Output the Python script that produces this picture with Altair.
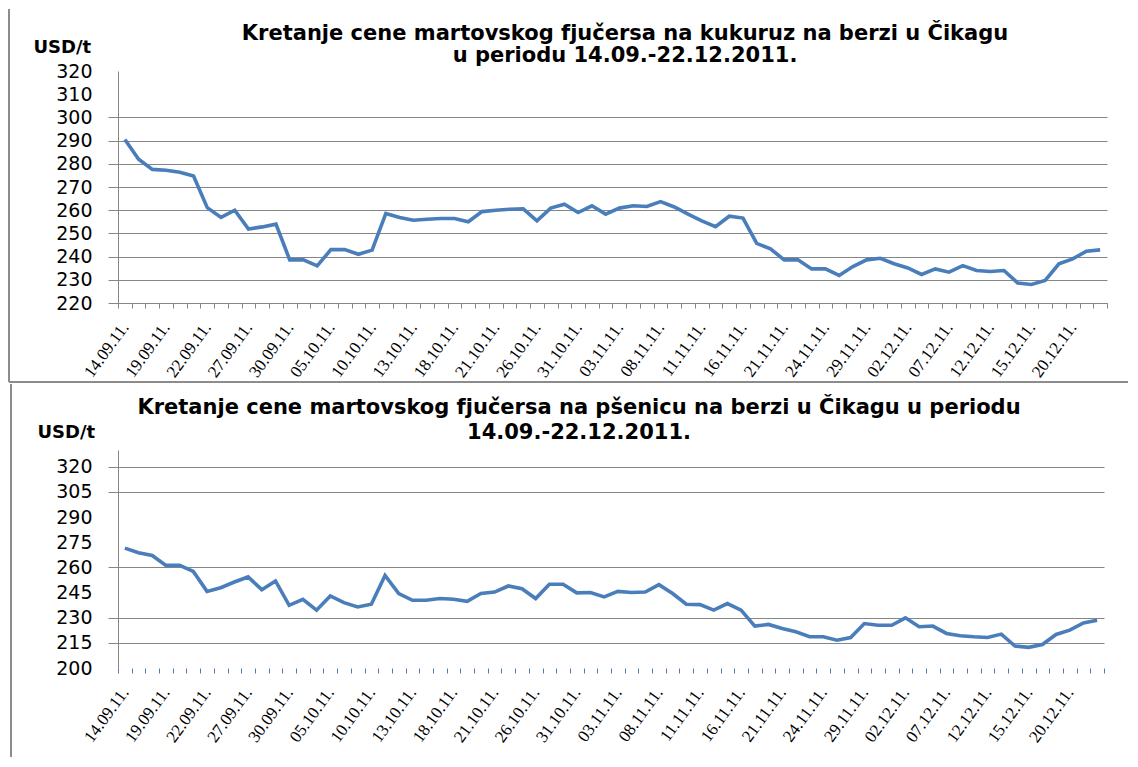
import altair as alt
import pandas as pd

# trading days (categories)
dates = [
    "14.09.11.", "15.09.11.", "16.09.11.", "19.09.11.", "20.09.11.", "21.09.11.", "22.09.11.",
    "23.09.11.", "26.09.11.", "27.09.11.", "28.09.11.", "29.09.11.", "30.09.11.",
    "03.10.11.", "04.10.11.", "05.10.11.", "06.10.11.", "07.10.11.", "10.10.11.", "11.10.11.",
    "12.10.11.", "13.10.11.", "14.10.11.", "17.10.11.", "18.10.11.", "19.10.11.", "20.10.11.",
    "21.10.11.", "24.10.11.", "25.10.11.", "26.10.11.", "27.10.11.", "28.10.11.", "31.10.11.",
    "01.11.11.", "02.11.11.", "03.11.11.", "04.11.11.", "07.11.11.", "08.11.11.", "09.11.11.",
    "10.11.11.", "11.11.11.", "14.11.11.", "15.11.11.", "16.11.11.", "17.11.11.", "18.11.11.",
    "21.11.11.", "22.11.11.", "23.11.11.", "24.11.11.", "25.11.11.", "28.11.11.", "29.11.11.",
    "30.11.11.", "01.12.11.", "02.12.11.", "05.12.11.", "06.12.11.", "07.12.11.", "08.12.11.",
    "09.12.11.", "12.12.11.", "13.12.11.", "14.12.11.", "15.12.11.", "16.12.11.", "19.12.11.",
    "20.12.11.", "21.12.11.", "22.12.11.",
]

# labelled categories on the x axis
label_dates = [
    "14.09.11.", "19.09.11.", "22.09.11.", "27.09.11.", "30.09.11.", "05.10.11.",
    "10.10.11.", "13.10.11.", "18.10.11.", "21.10.11.", "26.10.11.", "31.10.11.",
    "03.11.11.", "08.11.11.", "11.11.11.", "16.11.11.", "21.11.11.", "24.11.11.",
    "29.11.11.", "02.12.11.", "07.12.11.", "12.12.11.", "15.12.11.", "20.12.11.",
]

# corn (kukuruz) March futures, USD/t
corn = [
    290.5, 282.0, 277.6, 277.2, 276.4, 274.7, 261.1, 256.9, 260.0, 251.9,
    252.8, 254.0, 238.6, 238.6, 236.0, 243.0, 243.0, 241.0, 242.8, 258.6,
    256.9, 255.7, 256.1, 256.4, 256.4, 255.0, 259.4, 260.0, 260.4, 260.6,
    255.4, 260.9, 262.6, 259.0, 261.9, 258.3, 260.9, 261.9, 261.6, 263.7,
    261.4, 258.3, 255.4, 252.9, 257.4, 256.6, 245.7, 243.3, 238.6, 238.6,
    234.7, 234.7, 231.9, 235.7, 238.6, 239.3, 236.9, 235.1, 232.3, 234.7,
    233.3, 236.1, 234.0, 233.6, 234.0, 228.6, 228.0, 229.7, 236.9, 239.0,
    242.3, 242.9,
]

# wheat (pšenica) March futures, USD/t
wheat = [
    271.5, 268.7, 267.1, 261.2, 261.2, 257.6, 245.7, 247.9, 251.3, 254.3,
    246.7, 251.9, 237.4, 241.0, 234.5, 243.0, 239.0, 236.4, 238.0, 255.2,
    244.4, 240.4, 240.4, 241.4, 241.0, 239.8, 244.4, 245.3, 248.9, 247.3,
    241.4, 249.9, 249.9, 244.8, 245.0, 242.4, 245.7, 245.0, 245.3, 249.7,
    244.4, 238.0, 237.8, 234.5, 238.4, 234.5, 225.0, 226.0, 223.6, 221.6,
    218.6, 218.6, 216.6, 218.2, 226.5, 225.5, 225.5, 229.9, 224.6, 225.0,
    220.6, 219.2, 218.6, 218.2, 220.2, 213.1, 212.3, 214.0, 220.0, 222.6,
    226.9, 228.5,
]

corn_ticks = [320, 310, 300, 290, 280, 270, 260, 250, 240, 230, 220]
corn_grid = [300, 290, 280, 270, 260, 250, 240, 230, 220]
wheat_ticks = [320, 305, 290, 275, 260, 245, 230, 215, 200]
wheat_grid = [320, 305, 260, 230, 215]

title_corn = ["Kretanje cene martovskog fjučersa na kukuruz na berzi u Čikagu",
              "u periodu 14.09.-22.12.2011."]
title_wheat = ["Kretanje cene martovskog fjučersa na pšenicu na berzi u Čikagu u periodu",
               "14.09.-22.12.2011."]

BLUE = "#4A7EBB"
GRID = "#868686"
FRAME = "#8C8C8C"

df_c = pd.DataFrame({"datum": dates, "v": corn})
df_w = pd.DataFrame({"datum": dates, "v": wheat})
one = pd.DataFrame({"k": [0]})

lab_list = ",".join("'" + d + "'" for d in label_dates)
label_expr = f"indexof([{lab_list}], datum.value) >= 0 ? datum.value : ''"


def grid_cond(vals):
    lst = ",".join(str(v) for v in vals)
    return {"condition": {"test": f"indexof([{lst}], datum.value) < 0", "value": "transparent"},
            "value": GRID}


def x_enc(domain_on, tick_color):
    return alt.X(
        "datum:N", sort=dates,
        scale=alt.Scale(type="band", paddingInner=0, paddingOuter=0),
        bandPosition=0.5,
        axis=alt.Axis(
            title=None, tickBand="extent", labelExpr=label_expr, labelOverlap=False,
            labelAngle=306, labelAlign="right", labelBaseline="middle",
            labelFont="Liberation Serif", labelFontSize=17, labelColor="black",
            labelPadding=16, tickSize=5, tickColor=tick_color, tickWidth=1,
            domain=domain_on, domainColor=GRID, labelFlush=False, labelBound=False,
        ),
    )


def y_axis(vals, grid_vals, tx, ty):
    return alt.Axis(
        values=vals, title="USD/t", titleAngle=0, titleX=tx, titleY=ty,
        titleAlign="left", titleBaseline="middle", titleFont="DejaVu Sans",
        titleFontSize=18, titleFontWeight="bold", titleColor="black",
        labelFont="DejaVu Sans", labelFontSize=19, labelColor="black", labelPadding=16,
        tickSize=10, tickColor=grid_cond(grid_vals), gridColor=grid_cond(grid_vals),
        grid=True, domainColor=GRID, labelOverlap=False,
    )


def title_line(text, cx, cy):
    return alt.Chart(one).mark_text(
        text=text, font="DejaVu Sans", fontSize=21, fontWeight="bold", color="black",
        align="center", baseline="middle",
    ).encode(x=alt.value(cx), y=alt.value(cy))


top_line = alt.Chart(df_c).mark_line(color=BLUE, strokeWidth=3.6).encode(
    x=x_enc(True, GRID),
    y=alt.Y("v:Q", scale=alt.Scale(domain=[220, 320], nice=False, zero=False),
            axis=y_axis(corn_ticks, corn_grid, -85, -24)),
)
# frame of the upper chart: left border and bottom separator
top_border = alt.Chart(one).mark_rule(color=FRAME, strokeWidth=2).encode(
    x=alt.value(-109), y=alt.value(-62), y2=alt.value(311))
top_sep = alt.Chart(one).mark_rule(color=FRAME, strokeWidth=2).encode(
    x=alt.value(-109), x2=alt.value(1010), y=alt.value(311))

top = alt.layer(
    top_line, top_border, top_sep,
    title_line(title_corn[0], 507, -37), title_line(title_corn[1], 507, -15),
).properties(width=989, height=232)

bottom_line = alt.Chart(df_w).mark_line(color=BLUE, strokeWidth=3.6).encode(
    x=x_enc(False, BLUE),
    y=alt.Y("v:Q", scale=alt.Scale(domain=[200, 330], nice=False, zero=False),
            axis=y_axis(wheat_ticks, wheat_grid, -81, -18)),
)
bottom_border = alt.Chart(one).mark_rule(color=FRAME, strokeWidth=2).encode(
    x=alt.value(-107), y=alt.value(-66), y2=alt.value(307))

bottom = alt.layer(
    bottom_line, bottom_border,
    title_line(title_wheat[0], 461, -42), title_line(title_wheat[1], 461, -17),
).properties(width=986, height=218)

chart = alt.vconcat(top, bottom, spacing=0).properties(
    padding={"left": 0, "top": 0, "right": 0, "bottom": 0},
    background="white",
).configure_view(stroke=None).configure_axis(gridWidth=1, domainWidth=1)

chart.save("out.html", embed_options={"renderer": "svg", "actions": False})
